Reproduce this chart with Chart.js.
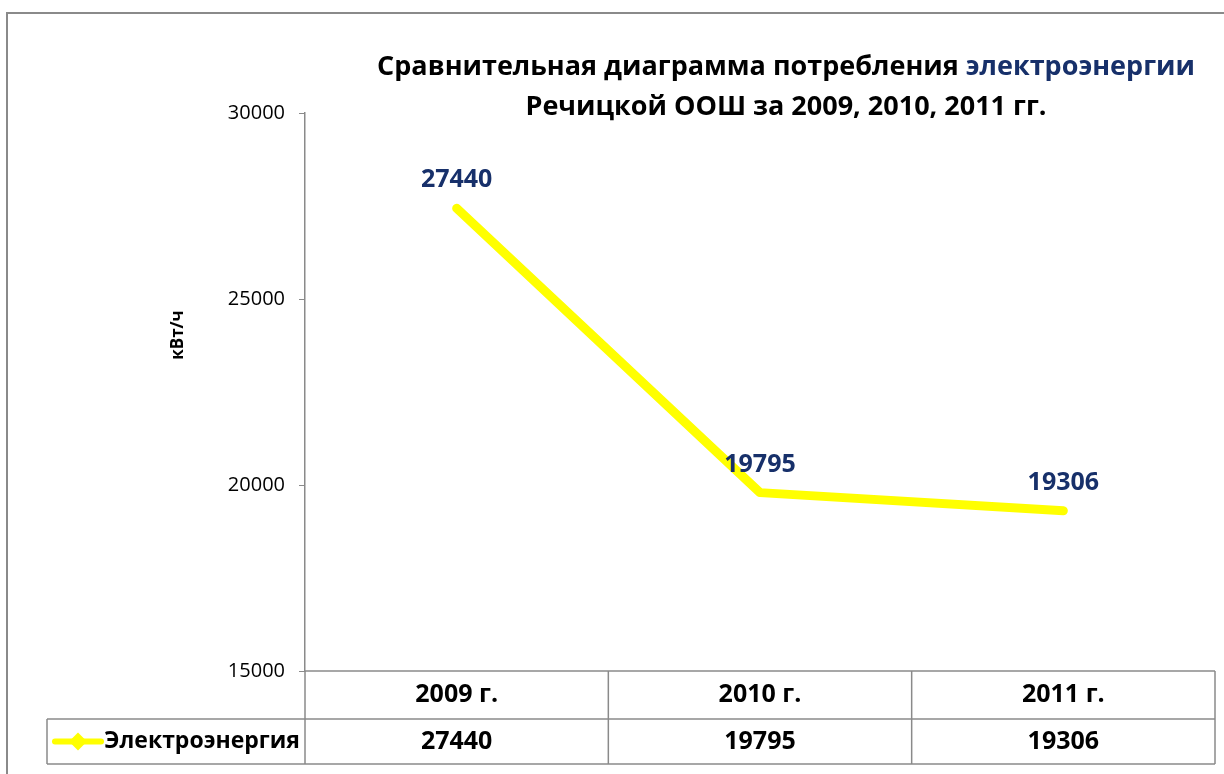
<!DOCTYPE html>
<html>
<head>
<meta charset="utf-8">
<script src="https://cdn.jsdelivr.net/npm/chart.js@4.4.0/dist/chart.umd.min.js"></script>
<style>
  html, body { margin: 0; padding: 0; background: #fff; }
  canvas { display: block; }
</style>
</head>
<body>
<canvas id="chart" width="1224" height="774"></canvas>
<script>
// данные
const years = ['2009 г.', '2010 г.', '2011 г.'];
const consumption = [27440, 19795, 19306];
const seriesName = 'Электроэнергия';
const yTicks = [15000, 20000, 25000, 30000];
const titleLine1 = ['Сравнительная диаграмма потребления ', 'электроэнергии'];
const titleLine2 = 'Речицкой ООШ за 2009, 2010, 2011 гг.';
const yTitle = 'кВт/ч';

const FONT = "'Open Sans', 'Noto Sans', sans-serif";
const GREY = '#8a8a8a';
const NAVY = '#17306a';
const YELLOW = '#ffff00';

// рамка диаграммы
const framePlugin = {
    id: 'frame',
    beforeDraw(chart) {
        const ctx = chart.ctx;
        ctx.save();
        ctx.fillStyle = '#fff';
        ctx.fillRect(0, 0, chart.width, chart.height);
        ctx.strokeStyle = GREY;
        ctx.lineWidth = 2;
        ctx.strokeRect(7, 13, chart.width + 20, chart.height + 20);
        ctx.restore();
    }
};

// заголовок в две строки, часть слов синим
const titlePlugin = {
    id: 'twoLineTitle',
    afterDraw(chart) {
        const ctx = chart.ctx;
        const cx = 786;
        ctx.save();
        ctx.font = 'bold 27px ' + FONT;
        ctx.textBaseline = 'middle';
        ctx.textAlign = 'left';
        const w0 = ctx.measureText(titleLine1[0]).width;
        const w1 = ctx.measureText(titleLine1[1]).width;
        let x = cx - (w0 + w1) / 2;
        ctx.fillStyle = '#000';
        ctx.fillText(titleLine1[0], x, 67);
        ctx.fillStyle = NAVY;
        ctx.fillText(titleLine1[1], x + w0, 67);
        ctx.fillStyle = '#000';
        ctx.textAlign = 'center';
        ctx.fillText(titleLine2, cx, 107);

        // подпись оси Y
        ctx.translate(178, 335);
        ctx.rotate(-Math.PI / 2);
        ctx.font = 'bold 17px ' + FONT;
        ctx.fillText(yTitle, 0, 0);
        ctx.restore();
    }
};

// подписи значений над точками
const valueLabels = {
    id: 'valueLabels',
    afterDatasetsDraw(chart) {
        const ctx = chart.ctx;
        const meta = chart.getDatasetMeta(0);
        ctx.save();
        ctx.font = 'bold 25px ' + FONT;
        ctx.fillStyle = NAVY;
        ctx.textAlign = 'center';
        ctx.textBaseline = 'middle';
        meta.data.forEach((pt, i) => {
            ctx.fillText(String(consumption[i]), pt.x, pt.y - 28);
        });
        ctx.restore();
    }
};

// таблица данных под графиком
const dataTable = {
    id: 'dataTable',
    afterDraw(chart) {
        const ctx = chart.ctx;
        const area = chart.chartArea;
        const xs = chart.scales.x;
        const colW = (area.right - area.left) / years.length;
        const top = area.bottom;
        const mid = top + 48;
        const bot = mid + 45;
        const legendLeft = 47;

        ctx.save();
        ctx.strokeStyle = GREY;
        ctx.lineWidth = 1.5;
        ctx.beginPath();
        ctx.moveTo(area.left, top); ctx.lineTo(area.right, top);
        ctx.moveTo(legendLeft, mid); ctx.lineTo(area.right, mid);
        ctx.moveTo(legendLeft, bot); ctx.lineTo(area.right, bot);
        ctx.moveTo(legendLeft, mid); ctx.lineTo(legendLeft, bot);
        for (let i = 0; i <= years.length; i++) {
            const x = area.left + i * colW;
            ctx.moveTo(x, top); ctx.lineTo(x, bot);
        }
        ctx.stroke();

        ctx.font = 'bold 25px ' + FONT;
        ctx.fillStyle = '#000';
        ctx.textAlign = 'center';
        ctx.textBaseline = 'middle';
        years.forEach((y, i) => {
            const x = xs.getPixelForValue(i);
            ctx.fillText(y, x, (top + mid) / 2);
            ctx.fillText(String(consumption[i]), x, (mid + bot) / 2);
        });

        // ключ легенды
        const ky = (mid + bot) / 2;
        ctx.strokeStyle = YELLOW;
        ctx.lineWidth = 6;
        ctx.lineCap = 'round';
        ctx.beginPath();
        ctx.moveTo(55, ky); ctx.lineTo(101, ky);
        ctx.stroke();
        ctx.fillStyle = YELLOW;
        ctx.beginPath();
        ctx.moveTo(78, ky - 9); ctx.lineTo(87, ky); ctx.lineTo(78, ky + 9); ctx.lineTo(69, ky);
        ctx.closePath();
        ctx.fill();

        ctx.font = 'bold 23px ' + FONT;
        ctx.fillStyle = '#000';
        ctx.textAlign = 'right';
        ctx.fillText(seriesName, area.left - 5, ky);
        ctx.restore();
    }
};

const ctx = document.getElementById('chart').getContext('2d');
const chart = new Chart(ctx, {
    type: 'line',
    data: {
        labels: years,
        datasets: [{
            label: seriesName,
            data: consumption,
            borderColor: YELLOW,
            backgroundColor: YELLOW,
            borderWidth: 9,
            borderCapStyle: 'round',
            borderJoinStyle: 'round',
            tension: 0,
            pointStyle: 'rectRot',
            pointRadius: 4,
            pointBorderWidth: 0,
            pointBackgroundColor: YELLOW
        }]
    },
    options: {
        responsive: false,
        animation: false,
        layout: {
            padding: { left: 0, top: 113, right: 9, bottom: 103 }
        },
        plugins: {
            legend: { display: false },
            tooltip: { enabled: false }
        },
        scales: {
            x: {
                display: false,
                offset: true
            },
            y: {
                min: 15000,
                max: 30000,
                afterBuildTicks: scale => {
                    scale.ticks = yTicks.map(v => ({ value: v }));
                },
                afterFit: scale => {
                    scale.width = 305;
                },
                border: { color: GREY, width: 1.5 },
                grid: {
                    drawOnChartArea: false,
                    drawTicks: true,
                    tickLength: 6,
                    color: GREY
                },
                ticks: {
                    color: '#000',
                    padding: 14,
                    font: { family: FONT, size: 20 },
                    callback: v => String(v)
                }
            }
        }
    },
    plugins: [framePlugin, titlePlugin, valueLabels, dataTable]
});
</script>
</body>
</html>
